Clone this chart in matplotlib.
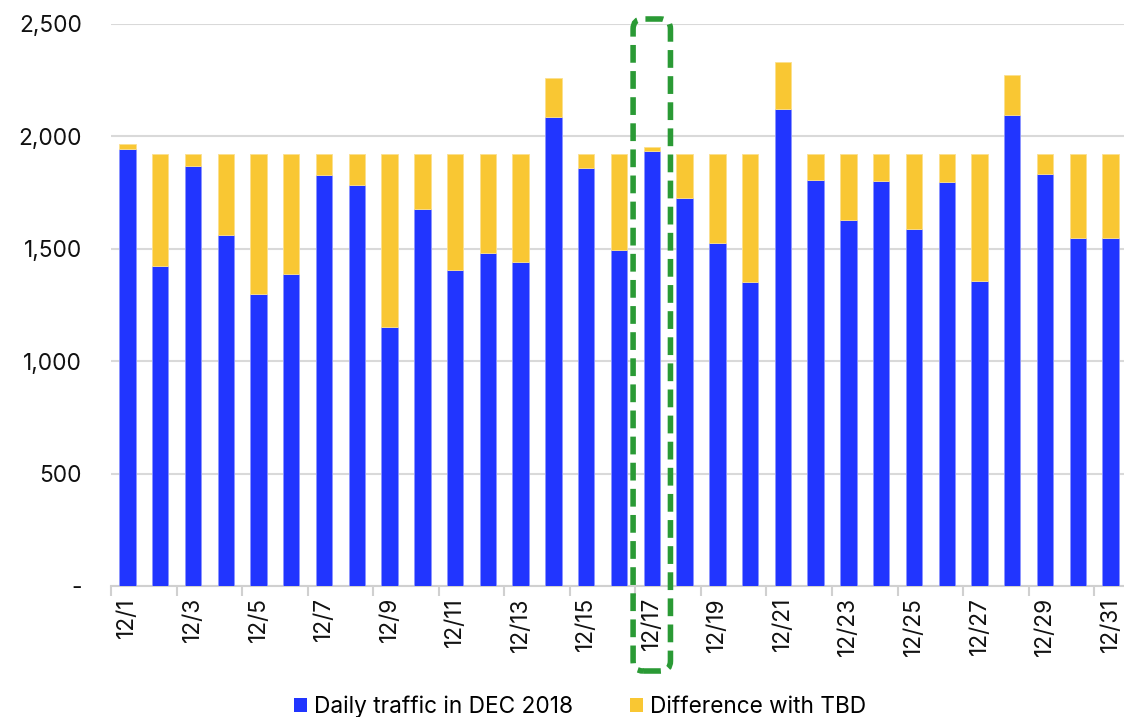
import matplotlib
matplotlib.use("Agg")
import matplotlib.pyplot as plt
from matplotlib.patches import FancyBboxPatch, Patch
from matplotlib.transforms import IdentityTransform
import numpy as np

plt.rcParams['font.family'] = ['Inter', 'DejaVu Sans']

dates = [f"12/{d}" for d in range(1, 32)]
traffic = [1942, 1424, 1868, 1562, 1301, 1386, 1828, 1783, 1154, 1675,
           1405, 1480, 1440, 2085, 1860, 1494, 1937, 1727, 1525, 1353,
           2124, 1807, 1629, 1802, 1590, 1797, 1357, 2093, 1834, 1547, 1547]
difference = [25, 496, 52, 358, 619, 534, 92, 137, 766, 245,
              515, 440, 480, 173, 60, 426, 18, 193, 395, 567,
              208, 113, 291, 118, 330, 123, 563, 181, 86, 373, 373]
yticks = [0, 500, 1000, 1500, 2000, 2500]
ytick_labels = ["-", "500", "1,000", "1,500", "2,000", "2,500"]

blue = "#2135FF"
yellow = "#F9C733"
green = "#2A9A35"

W, H = 1124, 717
fig = plt.figure(figsize=(W / 100, H / 100), dpi=100)
ax = fig.add_axes([111 / W, 1 - 586 / H, 1016 / W, 562 / H])

x = np.arange(len(dates))
ax.bar(x, traffic, width=0.5, color=blue, edgecolor="#8C95FF", linewidth=0.6, zorder=3,
       label="Daily traffic in DEC 2018")
ax.bar(x, difference, bottom=traffic, width=0.5, color=yellow, edgecolor="#FBE08E",
       linewidth=0.6, zorder=3, label="Difference with TBD")

FS = 16.3
ax.set_xlim(-0.5, len(dates) - 0.5)
ax.set_ylim(0, 2500)
ax.set_yticks(yticks)
ax.set_yticklabels(ytick_labels, fontsize=FS, color="#111111")
ax.yaxis.grid(True, color="#D9D9D9", linewidth=1.5, zorder=0)
ax.tick_params(axis="y", length=0, pad=21)

# x: tick marks at category boundaries every two categories, labels at every other category
ax.set_xticks(np.arange(-0.5, len(dates), 2))
ax.set_xticklabels([])
ax.set_xticks(x[::2], minor=True)
ax.set_xticklabels(dates[::2], minor=True, rotation=90, fontsize=FS, color="#111111")
ax.tick_params(axis="x", which="major", length=7, color="#D0D0D0", width=1.5)
ax.tick_params(axis="x", which="minor", length=0, pad=8)

for s in ["left", "right", "top"]:
    ax.spines[s].set_visible(False)
ax.spines["bottom"].set_color("#D0D0D0")
ax.spines["bottom"].set_linewidth(1.5)

handles = [Patch(facecolor=blue), Patch(facecolor=yellow)]
fig.legend(handles, ["Daily traffic in DEC 2018", "Difference with TBD"],
           loc="lower center", bbox_to_anchor=(0.516, -0.03), ncol=2, frameon=False,
           fontsize=FS, handlelength=0.6, handleheight=0.6, handletextpad=0.3,
           columnspacing=2.5)

# green dashed rounded highlight around 12/17
fig.canvas.draw()
x0 = ax.transData.transform((16 - 0.57, 0))[0]
x1 = ax.transData.transform((16 + 0.57, 0))[0]
y_top = H - 19
y_bot = H - 671
box = FancyBboxPatch((x0, y_bot), x1 - x0, y_top - y_bot,
                     boxstyle="round,pad=0,rounding_size=10",
                     transform=IdentityTransform(), fill=False,
                     edgecolor=green, linewidth=4, linestyle=(0, (3.2, 1.5)),
                     zorder=10, clip_on=False)
fig.add_artist(box)

fig.savefig("out.png", dpi=100)
